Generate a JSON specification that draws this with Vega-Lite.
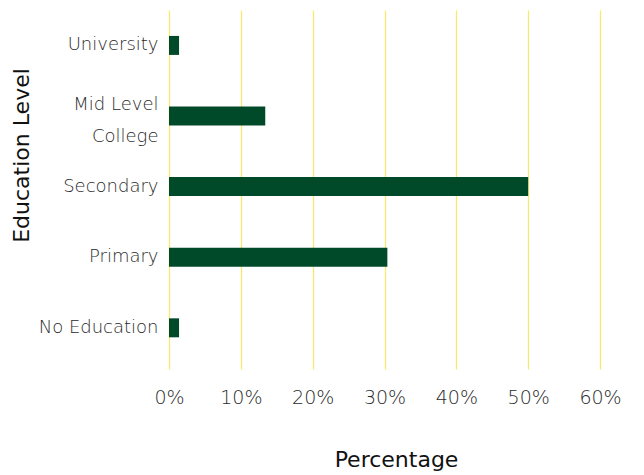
{
  "$schema": "https://vega.github.io/schema/vega-lite/v6.json",
  "autosize": {"type": "none"},
  "padding": {"left": 169, "top": 10, "right": 44, "bottom": 106},
  "width": 431,
  "height": 359,
  "background": "white",
  "config": {
    "view": {"stroke": null},
    "font": "DejaVu Sans"
  },
  "data": {
    "values": [
      {"level": "University", "pct": 0.014},
      {"level": "Mid Level College", "pct": 0.134},
      {"level": "Secondary", "pct": 0.50},
      {"level": "Primary", "pct": 0.304},
      {"level": "No Education", "pct": 0.014}
    ]
  },
  "mark": {"type": "bar", "color": "#004a2a"},
  "encoding": {
    "y": {
      "field": "level",
      "type": "nominal",
      "sort": null,
      "scale": {"paddingInner": 0.731, "paddingOuter": 0.408, "align": 0.45},
      "axis": {
        "title": "Education Level",
        "titleFont": "DejaVu Sans",
        "titleFontSize": 22,
        "titleFontWeight": 400,
        "titleColor": "#111111",
        "titlePadding": 5,
        "titleY": 145,
        "labelFont": "DejaVu Sans",
        "labelFontSize": 18,
        "labelFontWeight": 200,
        "labelColor": "#2a2a2a",
        "labelPadding": 11,
        "labelLineHeight": 32,
        "labelExpr": "datum.value == 'Mid Level College' ? ['Mid Level', 'College'] : datum.value",
        "labelOffset": {"condition": {"test": "datum.value == 'Mid Level College'", "value": -11}, "value": 0},
        "ticks": false,
        "domain": false,
        "grid": false
      }
    },
    "x": {
      "field": "pct",
      "type": "quantitative",
      "scale": {"domain": [0, 0.6], "nice": false},
      "axis": {
        "title": "Percentage",
        "titleFont": "DejaVu Sans",
        "titleFontSize": 22,
        "titleFontWeight": 400,
        "titleColor": "#111111",
        "titlePadding": 42,
        "titleX": 227,
        "format": ".0%",
        "values": [0, 0.1, 0.2, 0.3, 0.4, 0.5, 0.6],
        "labelFont": "DejaVu Sans",
        "labelFontSize": 19,
        "labelFontWeight": 200,
        "labelColor": "#2a2a2a",
        "labelPadding": 19,
        "labelFlush": false,
        "ticks": false,
        "domain": false,
        "grid": true,
        "gridColor": "#f7e873",
        "gridWidth": 1.3
      }
    }
  }
}
